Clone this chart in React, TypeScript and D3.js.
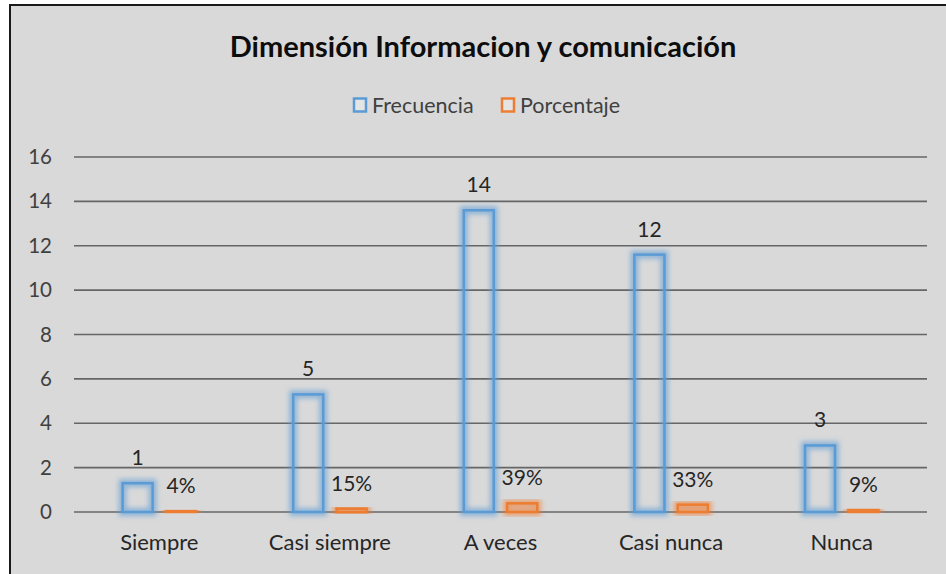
import React from "react";
import * as d3 from "d3";

const categories = ["Siempre", "Casi siempre", "A veces", "Casi nunca", "Nunca"];
const frecuencia = [1.3, 5.3, 13.6, 11.6, 3.0];
const porcentaje = [0.04, 0.15, 0.39, 0.33, 0.09];
const yTicks = [0, 2, 4, 6, 8, 10, 12, 14, 16];
const seriesNames = ["Frecuencia", "Porcentaje"];
const seriesColors = ["#5b9bd5", "#ed7d31"];

const W = 946;
const H = 574;
const FONT = "Lato, 'Open Sans', sans-serif";

export default function App() {
  const x0 = d3.scaleBand<string>().domain(categories).range([74, 927]).paddingInner(0.555).paddingOuter(0.2775);
  const x1 = d3.scaleBand<string>().domain(seriesNames).range([0, x0.bandwidth()]).paddingInner(0.25);
  const y = d3.scaleLinear().domain([0, 16]).range([512, 157]);
  const sw = 2.5;
  const fmtN = d3.format(".0f");
  const fmtP = d3.format(".0%");
  const series = [frecuencia, porcentaje];

  return (
    <svg width={W} height={H} style={{ position: "absolute", left: 0, top: 0 }}>
      <defs>
        {seriesColors.map((c, i) => (
          <filter key={i} id={`glow${i}`} x="-50%" y="-50%" width="200%" height="200%">
            <feGaussianBlur stdDeviation="2.8" />
          </filter>
        ))}
      </defs>
      <rect x={0} y={0} width={W} height={H} fill="#ffffff" />
      <rect x={9} y={4} width={W - 9} height={H - 4} fill="#d9d9d9" />
      <line x1={10} y1={4} x2={10} y2={H} stroke="#1a1a1a" strokeWidth={2} />
      <line x1={9} y1={5} x2={W} y2={5} stroke="#1a1a1a" strokeWidth={2} />

      <text x={483} y={57} textAnchor="middle" fontFamily={FONT} fontWeight="bold" fontSize={29} fill="#0d0d0d">
        Dimensión Informacion y comunicación
      </text>

      {/* legend */}
      {seriesNames.map((s, i) => {
        const lx = i === 0 ? 354 : 502;
        return (
          <g key={s}>
            <rect x={lx} y={98.5} width={12} height={13} fill="#e4e4e4" stroke={seriesColors[i]} strokeWidth={2.5} />
            <text x={lx + 18} y={112.5} fontFamily={FONT} fontSize={21.5} fill="#404040">
              {s}
            </text>
          </g>
        );
      })}

      {/* gridlines and y ticks */}
      {yTicks.map((t) => (
        <g key={t}>
          <line x1={74} x2={927} y1={y(t)} y2={y(t)} stroke="#666666" strokeWidth={1.6} />
          <text x={52} y={y(t) + 7} textAnchor="end" fontFamily={FONT} fontSize={20.5} fill="#404040">
            {t}
          </text>
        </g>
      ))}

      {/* bars */}
      {categories.map((c, ci) => (
        <g key={c} transform={`translate(${x0(c)},0)`}>
          {series.map((vals, si) => {
            const v = vals[ci];
            const bx = (x1(seriesNames[si]) as number) + sw / 2;
            const bw = x1.bandwidth() - sw;
            const by = y(v);
            const bh = y(0) - y(v);
            return (
              <g key={si}>
                <rect x={bx} y={by} width={bw} height={bh} fill="none" stroke={seriesColors[si]} strokeOpacity={0.6} strokeWidth={8} filter={`url(#glow${si})`} />
                <rect x={bx} y={by} width={bw} height={bh} fill="none" stroke={seriesColors[si]} strokeWidth={sw} />
                <text x={bx + bw / 2} y={by - 18} textAnchor="middle" fontFamily={FONT} fontSize={21} fill="#262626">
                  {si === 0 ? fmtN(v) : fmtP(v)}
                </text>
              </g>
            );
          })}
        </g>
      ))}

      {/* category labels */}
      {categories.map((c) => (
        <text key={c} x={(x0(c) as number) + x0.bandwidth() / 2} y={550} textAnchor="middle" fontFamily={FONT} fontSize={22} fill="#262626">
          {c}
        </text>
      ))}
    </svg>
  );
}
